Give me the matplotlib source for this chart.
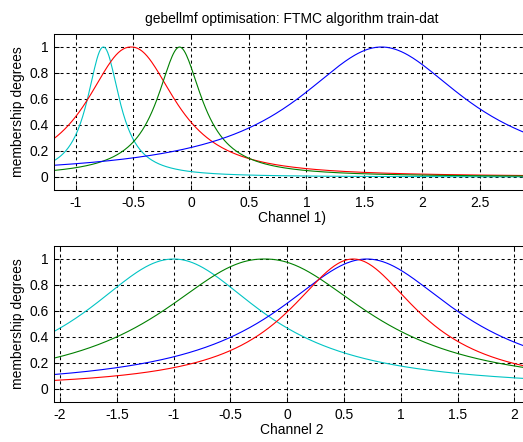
import numpy as np
import matplotlib
matplotlib.use("Agg")
import matplotlib.pyplot as plt

# Generalized bell membership function parameters (a, b, c)
ch1_names = ["cyan", "red", "green", "blue"]
ch1_a = [0.168, 0.45, 0.24, 0.894]
ch1_b = [1.04, 1.1, 0.97, 1.0]
ch1_c = [-0.76, -0.52, -0.10, 1.65]

ch2_names = ["cyan", "green", "blue", "red"]
ch2_a = [0.94, 1.08, 0.975, 0.70]
ch2_b = [1.02, 1.08, 1.0, 1.0]
ch2_c = [-1.00, -0.20, 0.70, 0.58]

colors = {"cyan": "#00c4c4", "red": "#ff0000", "green": "#008000", "blue": "#0000ff"}

ch1_xlim = [-1.188, 2.937]
ch2_xlim = [-2.053, 2.137]
ch1_xticks = [-1, -0.5, 0, 0.5, 1, 1.5, 2, 2.5]
ch2_xticks = [-2, -1.5, -1, -0.5, 0, 0.5, 1, 1.5, 2]
yticks = [0, 0.2, 0.4, 0.6, 0.8, 1]
tick_fmt = lambda v: ("%g" % v)

title = "gebellmf optimisation: FTMC algorithm train-dat"
ylabel = "membership degrees"
xlabel1 = "Channel 1)"
xlabel2 = "Channel 2"

plt.rcParams['font.family'] = ['Liberation Sans', 'DejaVu Sans']
FS = 10

def gbell(x, a, b, c):
    return 1.0 / (1.0 + np.abs((x - c) / a) ** (2 * b))

W, H = 523, 442
fig = plt.figure(figsize=(W / 100, H / 100), dpi=100)
fig.patch.set_facecolor("white")

def make_axes(top_px, bottom_px):
    left = 54 / W
    right = 530 / W
    return fig.add_axes([left, 1 - bottom_px / H, right - left, (bottom_px - top_px) / H])

ax1 = make_axes(34, 190)
ax2 = make_axes(246, 402)

def style(ax, xlim, xticks, xlabel):
    ax.set_xlim(xlim)
    ax.set_ylim(-0.1, 1.1)
    ax.set_xticks(xticks)
    ax.set_xticklabels([tick_fmt(v) for v in xticks], fontsize=FS)
    ax.set_yticks(yticks)
    ax.set_yticklabels([tick_fmt(v) for v in yticks], fontsize=FS)
    ax.grid(True, color="black", linestyle=(0, (2.9, 2.9)), linewidth=0.75)
    ax.tick_params(direction="in", length=3.6, width=0.75, top=True, right=True,
                   pad=4, colors="black")
    for s in ax.spines.values():
        s.set_linewidth(0.75)
        s.set_color("black")
    ax.set_xlabel(xlabel, fontsize=FS, labelpad=1)
    ax.set_ylabel(ylabel, fontsize=FS, labelpad=3)

x1 = np.linspace(ch1_xlim[0], ch1_xlim[1], 400)
for n, a, b, c in zip(ch1_names, ch1_a, ch1_b, ch1_c):
    ax1.plot(x1, gbell(x1, a, b, c), color=colors[n], linewidth=0.8)
style(ax1, ch1_xlim, ch1_xticks, xlabel1)
ax1.set_title(title, fontsize=FS, pad=8)

x2 = np.linspace(ch2_xlim[0], ch2_xlim[1], 400)
for n, a, b, c in zip(ch2_names, ch2_a, ch2_b, ch2_c):
    ax2.plot(x2, gbell(x2, a, b, c), color=colors[n], linewidth=0.8)
style(ax2, ch2_xlim, ch2_xticks, xlabel2)

fig.savefig("out.png", dpi=100, facecolor="white")
